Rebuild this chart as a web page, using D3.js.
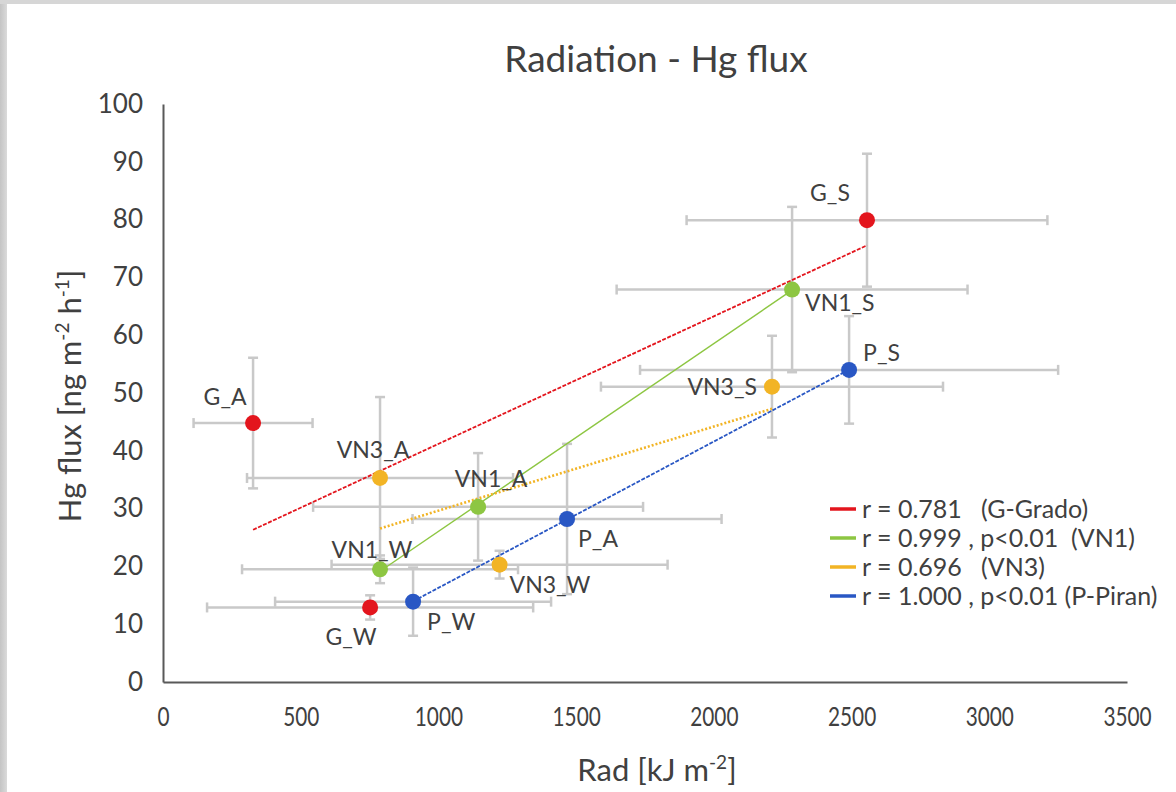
<!DOCTYPE html>
<html>
<head>
<meta charset="utf-8">
<script src="https://cdn.jsdelivr.net/npm/d3@7"></script>
<style>
body { margin: 0; background: #fff; }
text { font-family: Lato, "Open Sans", sans-serif; fill: #404040; }
</style>
</head>
<body>
<svg class="chart"></svg>
<script>
// data
var names   = ["G_A", "G_W", "G_S", "VN1_A", "VN1_W", "VN1_S", "VN3_A", "VN3_W", "VN3_S", "P_A", "P_W", "P_S"];
var sites   = ["G", "G", "G", "VN1", "VN1", "VN1", "VN3", "VN3", "VN3", "P", "P", "P"];
var rad     = [327, 752, 2556, 1144, 788, 2284, 788, 1222, 2211, 1467, 908, 2491];
var radErr  = [216, 592, 655, 599, 501, 637, 483, 610, 621, 561, 501, 759];
var flux    = [44.8, 12.9, 79.9, 30.3, 19.5, 67.9, 35.3, 20.3, 51.1, 28.2, 13.9, 54.0];
var fluxErr = [11.3, 2.1, 11.5, 9.3, 2.4, 14.3, 14.0, 2.4, 8.8, 13.0, 5.9, 9.3];

var siteKeys   = ["G", "VN1", "VN3", "P"];
var legendText = ["r = 0.781   (G-Grado)", "r = 0.999 , p<0.01  (VN1)", "r = 0.696   (VN3)", "r = 1.000 , p<0.01 (P-Piran)"];

var xTicks = [0, 500, 1000, 1500, 2000, 2500, 3000, 3500];
var yTicks = [0, 10, 20, 30, 40, 50, 60, 70, 80, 90, 100];

// look
var colors = {G: "#e3151d", VN1: "#8dc642", VN3: "#f2b425", P: "#2957c4"};
var dashes = {G: "4,1.5", VN1: null, VN3: "2,2", P: "4,1.5"};
var widths = {G: 1.8, VN1: 1.4, VN3: 2.6, P: 1.8};

// label placement: [dx, dy, anchor]
var labelPos = {
  "G_A": [-28, -26, "middle"], "G_W": [-19, 29, "middle"], "G_S": [-37, -27, "middle"],
  "VN1_A": [13, -28, "middle"], "VN1_W": [-8, -20, "middle"], "VN1_S": [13, 13, "start"],
  "VN3_A": [-7, -28, "middle"], "VN3_W": [10, 20, "start"], "VN3_S": [-15, 0, "end"],
  "P_A": [11, 20, "start"], "P_W": [14, 20, "start"], "P_S": [14, -17, "start"]
};

var W = 1176, H = 792;

var svg = d3.select(".chart")
            .attr("width", W)
            .attr("height", H);

// grey frame of the screenshot
var defs = svg.append("defs");
var gl = defs.append("linearGradient").attr("id", "gl");
gl.append("stop").attr("offset", "0%").attr("stop-color", "#c4c4c4");
gl.append("stop").attr("offset", "100%").attr("stop-color", "#dadada");
svg.append("rect").attr("width", W).attr("height", H).attr("fill", "#fff");
svg.append("rect").attr("width", 7).attr("height", H).attr("fill", "url(#gl)");
svg.append("rect").attr("width", W).attr("height", 4).attr("fill", "#d6d6d6");

var x = d3.scaleLinear().domain([0, 3500]).range([163, 1127]);
var y = d3.scaleLinear().domain([0, 100]).range([682, 104]);

var pts = names.map(function(n, i) {
  return {name: n, site: sites[i], rad: rad[i], re: radErr[i], flux: flux[i], fe: fluxErr[i]};
});

// axes
var ya = svg.append("g")
   .attr("transform", "translate(" + x(0) + ",0)")
   .call(d3.axisLeft(y).tickValues(yTicks).tickSize(0).tickSizeOuter(0).tickPadding(20));
ya.selectAll("text").attr("font-size", 26).attr("font-family", null);

var xa = svg.append("g")
   .attr("transform", "translate(0," + y(0) + ")")
   .call(d3.axisBottom(x).tickValues(xTicks).tickFormat(d3.format("d"))
           .tickSize(0).tickSizeOuter(0).tickPadding(26));
xa.selectAll("text").attr("font-size", 26).attr("font-family", null)
   .attr("transform", "scale(0.8,1)");

svg.selectAll(".domain").attr("stroke", "#595959").attr("stroke-width", 2);

// error bars
var cap = 5;
var eb = svg.append("g").attr("stroke", "#c9c9c9").attr("stroke-width", 2.5).attr("fill", "none");
pts.forEach(function(d) {
  var cx = x(d.rad), cy = y(d.flux);
  var x0 = x(d.rad - d.re), x1 = x(d.rad + d.re);
  var y0 = y(d.flux - d.fe), y1 = y(d.flux + d.fe);
  eb.append("line").attr("x1", x0).attr("x2", x1).attr("y1", cy).attr("y2", cy);
  eb.append("line").attr("x1", x0).attr("x2", x0).attr("y1", cy - cap).attr("y2", cy + cap);
  eb.append("line").attr("x1", x1).attr("x2", x1).attr("y1", cy - cap).attr("y2", cy + cap);
  eb.append("line").attr("x1", cx).attr("x2", cx).attr("y1", y0).attr("y2", y1);
  eb.append("line").attr("x1", cx - cap).attr("x2", cx + cap).attr("y1", y0).attr("y2", y0);
  eb.append("line").attr("x1", cx - cap).attr("x2", cx + cap).attr("y1", y1).attr("y2", y1);
});

// linear trend lines (least squares per site)
siteKeys.forEach(function(s) {
  var g = pts.filter(function(d) { return d.site === s; });
  var mx = d3.mean(g, function(d) { return d.rad; });
  var my = d3.mean(g, function(d) { return d.flux; });
  var sxy = d3.sum(g, function(d) { return (d.rad - mx) * (d.flux - my); });
  var sxx = d3.sum(g, function(d) { return (d.rad - mx) * (d.rad - mx); });
  var b = sxy / sxx, a = my - b * mx;
  var ext = d3.extent(g, function(d) { return d.rad; });
  svg.append("line")
     .attr("x1", x(ext[0])).attr("y1", y(a + b * ext[0]))
     .attr("x2", x(ext[1])).attr("y2", y(a + b * ext[1]))
     .attr("stroke", colors[s])
     .attr("stroke-width", widths[s])
     .attr("stroke-dasharray", dashes[s]);
});

// points
svg.selectAll("circle.pt")
   .data(pts)
   .enter().append("circle")
   .attr("class", "pt")
   .attr("cx", function(d) { return x(d.rad); })
   .attr("cy", function(d) { return y(d.flux); })
   .attr("r", 8)
   .attr("fill", function(d) { return colors[d.site]; });

// point labels
svg.selectAll("text.lbl")
   .data(pts)
   .enter().append("text")
   .attr("class", "lbl")
   .attr("x", function(d) { return x(d.rad) + labelPos[d.name][0]; })
   .attr("y", function(d) { return y(d.flux) + labelPos[d.name][1]; })
   .attr("dy", "0.36em")
   .attr("text-anchor", function(d) { return labelPos[d.name][2]; })
   .attr("font-size", 23)
   .text(function(d) { return d.name; });

// legend
var lg = svg.append("g").attr("transform", "translate(830,509)");
siteKeys.forEach(function(s, i) {
  lg.append("line")
    .attr("x1", 0).attr("x2", 26)
    .attr("y1", i * 29).attr("y2", i * 29)
    .attr("stroke", colors[s]).attr("stroke-width", 3.5);
  lg.append("text")
    .attr("x", 32).attr("y", i * 29).attr("dy", "0.36em")
    .attr("font-size", 25)
    .style("white-space", "pre")
    .text(legendText[i]);
});

// title
svg.append("text")
   .attr("x", 656).attr("y", 72)
   .attr("text-anchor", "middle")
   .attr("font-size", 37)
   .attr("fill", "#333")
   .text("Radiation - Hg flux");

// axis titles
var xt = svg.append("text")
   .attr("x", 657).attr("y", 781)
   .attr("text-anchor", "middle")
   .attr("font-size", 31);
xt.append("tspan").text("Rad [kJ m");
xt.append("tspan").attr("font-size", 19).attr("dy", -12).text("-2");
xt.append("tspan").attr("dy", 12).text("]");

var yt = svg.append("text")
   .attr("transform", "translate(81,396) rotate(-90)")
   .attr("text-anchor", "middle")
   .attr("font-size", 31);
yt.append("tspan").text("Hg flux [ng m");
yt.append("tspan").attr("font-size", 19).attr("dy", -12).text("-2");
yt.append("tspan").attr("dy", 12).text(" h");
yt.append("tspan").attr("font-size", 19).attr("dy", -12).text("-1");
yt.append("tspan").attr("dy", 12).text("]");
</script>
</body>
</html>
